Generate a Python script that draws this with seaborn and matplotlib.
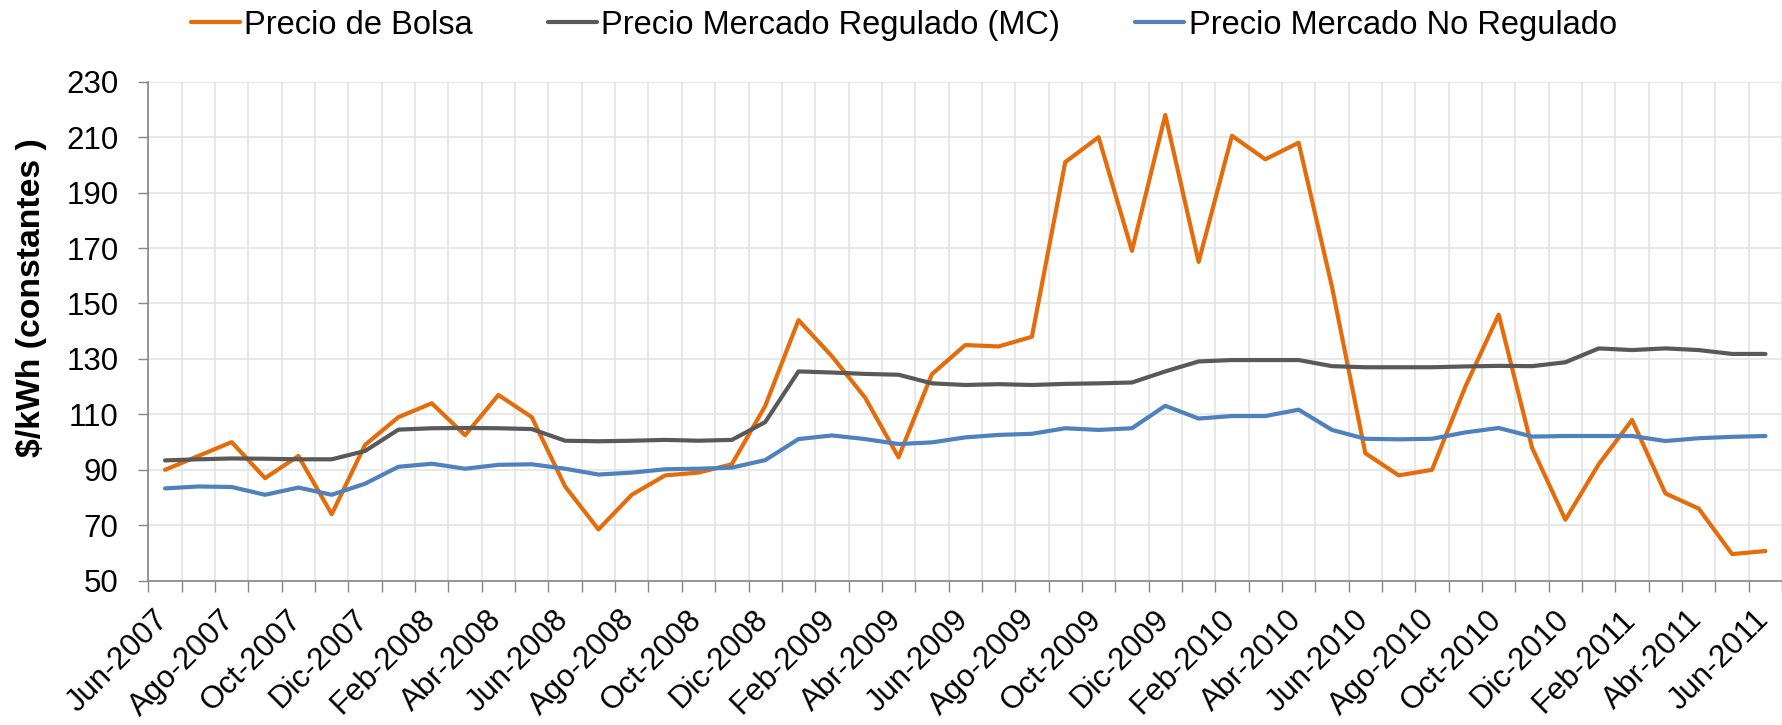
import numpy as np
import pandas as pd
import matplotlib
matplotlib.use("Agg")
import matplotlib.pyplot as plt
import matplotlib.transforms as mtransforms
import seaborn as sns

sns.set_theme(style="white")
plt.rcParams["font.family"] = ["Liberation Sans", "DejaVu Sans"]
plt.rcParams["text.color"] = "black"
plt.rcParams["axes.labelcolor"] = "black"

# monthly values, Jun-2007 .. Jun-2011 (49 months)
series_names = ["Precio de Bolsa", "Precio Mercado Regulado (MC)", "Precio Mercado No Regulado"]

bolsa = [90, 95, 100, 87, 95, 74, 99, 109, 114, 102.5, 117, 109, 84, 68.5, 81, 88, 89,
         92, 113, 144, 131, 116, 94.5, 124.5, 135, 134.5, 138, 201, 210, 169, 218, 165,
         210.5, 202, 208, 156, 96, 88, 90, 120, 146, 98, 72, 92, 108, 81.5, 76, 59.6, 60.7]

regulado = [93.4, 93.8, 94.1, 94, 93.8, 93.8, 96.8, 104.5, 105, 105.1, 105, 104.7, 100.5,
            100.3, 100.5, 100.8, 100.5, 100.8, 107.2, 125.5, 125.1, 124.6, 124.3, 121.2,
            120.6, 120.9, 120.6, 121, 121.2, 121.5, 125.5, 129.1, 129.6, 129.6, 129.6,
            127.4, 127, 127, 127, 127.3, 127.5, 127.4, 128.8, 133.8, 133.2, 133.8, 133.2,
            131.8, 131.8]

no_regulado = [83.3, 84, 83.8, 81, 83.6, 81, 85, 91.1, 92.2, 90.4, 91.8, 92, 90.4, 88.3,
               89, 90.2, 90.4, 90.8, 93.5, 101.1, 102.4, 101.1, 99.3, 99.9, 101.7, 102.6,
               103, 105, 104.4, 105, 113.1, 108.5, 109.4, 109.4, 111.7, 104.4, 101.2, 101,
               101.2, 103.5, 105.1, 102, 102.2, 102.2, 102.2, 100.4, 101.4, 101.9, 102.2]

tick_labels = ["Jun-2007", "Ago-2007", "Oct-2007", "Dic-2007", "Feb-2008", "Abr-2008",
               "Jun-2008", "Ago-2008", "Oct-2008", "Dic-2008", "Feb-2009", "Abr-2009",
               "Jun-2009", "Ago-2009", "Oct-2009", "Dic-2009", "Feb-2010", "Abr-2010",
               "Jun-2010", "Ago-2010", "Oct-2010", "Dic-2010", "Feb-2011", "Abr-2011",
               "Jun-2011"]

colors = {series_names[0]: "#E46C0A", series_names[1]: "#595959", series_names[2]: "#4F81BD"}

n = len(bolsa)
df = pd.DataFrame({
    "mes": np.arange(n),
    series_names[0]: bolsa,
    series_names[1]: regulado,
    series_names[2]: no_regulado,
})
long_df = df.melt(id_vars="mes", var_name="serie", value_name="valor")

fig, ax = plt.subplots(figsize=(17.83, 7.25), dpi=100)
fig.subplots_adjust(left=0.0832, right=0.9995, top=0.8873, bottom=0.199)

sns.lineplot(data=long_df, x="mes", y="valor", hue="serie", hue_order=series_names,
             palette=colors, linewidth=3.0, ax=ax)

ax.set_xlim(-0.5, n - 0.5)
ax.set_ylim(50, 230)
ax.set_yticks(range(50, 231, 20))
ax.set_xticks(np.arange(0, n, 2))
ax.set_xticklabels(tick_labels, rotation=45, ha="right", va="top", rotation_mode="anchor")
ax.set_xticks(np.arange(-0.5, n, 1), minor=True)

grid_c = "#e2e2e2"
ax.grid(which="minor", axis="x", color=grid_c, linewidth=1.1)
ax.grid(which="major", axis="y", color=grid_c, linewidth=1.1)
ax.grid(which="major", axis="x", visible=False)
ax.set_axisbelow(True)

ax.tick_params(axis="x", which="major", bottom=True, length=0, pad=17, labelsize=22.5,
               labelcolor="black")
ax.tick_params(axis="x", which="minor", bottom=True, length=8, width=1, color="#868686")
ax.tick_params(axis="y", left=True, length=7.5, width=1, color="#868686", pad=14,
               labelsize=22.5, labelcolor="black")

# nudge rotated labels left so their end sits on the month
shift = mtransforms.ScaledTranslation(-0.12, 0, fig.dpi_scale_trans)
for lbl in ax.get_xticklabels():
    lbl.set_transform(lbl.get_transform() + shift)

for side in ["top", "right"]:
    ax.spines[side].set_visible(False)
for side in ["left", "bottom"]:
    ax.spines[side].set_color("#868686")
    ax.spines[side].set_linewidth(1.2)

ax.set_xlabel("")
ax.set_ylabel("$/kWh (constantes )", fontsize=24.3, fontweight="bold", va="center")
ax.yaxis.set_label_coords(-0.0713, 0.5675)

handles, labels = ax.get_legend_handles_labels()
ax.legend_.remove()
fig.legend(handles, labels, loc="center", bbox_to_anchor=(0.507, 0.9655), ncol=3,
           frameon=False, fontsize=23.5, handlelength=1.5, handletextpad=0.13,
           columnspacing=2.3)

fig.savefig("out.png", dpi=100)
